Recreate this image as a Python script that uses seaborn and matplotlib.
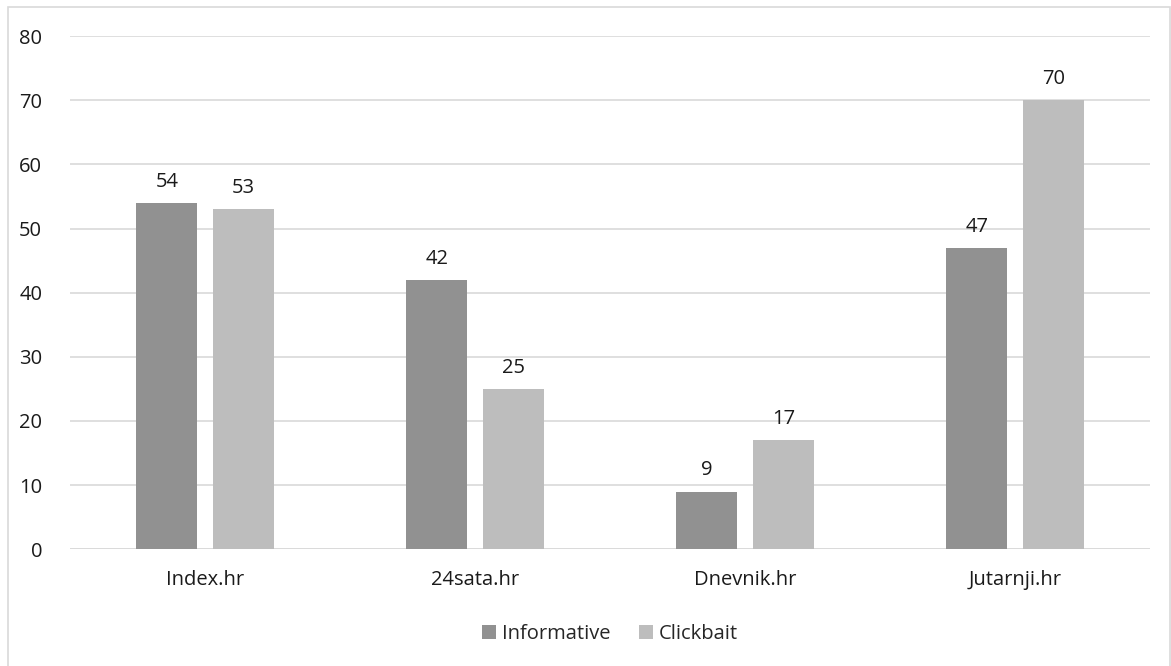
"""
Informative vs clickbait headlines per news portal.
"""
import matplotlib
matplotlib.use("Agg")
import matplotlib.pyplot as plt
from matplotlib.patches import Rectangle
import seaborn as sns
import pandas as pd

portals = ["Index.hr", "24sata.hr", "Dnevnik.hr", "Jutarnji.hr"]
informative = [54, 42, 9, 47]
clickbait = [53, 25, 17, 70]
series_names = ["Informative", "Clickbait"]
colors = ["#919191", "#BDBDBD"]

df = pd.DataFrame({
    "portal": portals * 2,
    "count": informative + clickbait,
    "type": [series_names[0]] * len(portals) + [series_names[1]] * len(portals),
})

sns.set_theme(style="white")
plt.rcParams["font.family"] = ["Open Sans", "DejaVu Sans"]

fs = 14.5
fig = plt.figure(figsize=(11.71, 6.66), dpi=100)
ax = fig.add_axes([0.0598, 0.1752, 0.9223, 0.7707])

sns.barplot(data=df, x="portal", y="count", hue="type", palette=colors,
            width=0.567, gap=0.2, ax=ax, saturation=1, errorbar=None,
            edgecolor="none", linewidth=0)

for cont in ax.containers:
    ax.bar_label(cont, padding=8, fontsize=fs, color="#1a1a1a")

ax.set_ylim(0, 80)
ax.set_xlim(-0.5, 3.5)
ax.set_yticks(range(0, 81, 10))
ax.yaxis.grid(True, color="#D9D9D9", linewidth=1.2)
ax.set_axisbelow(True)
for s in ax.spines.values():
    s.set_visible(False)
ax.axhline(0, color="#D9D9D9", linewidth=1.2, zorder=0)
ax.tick_params(axis="y", length=0, pad=20, labelsize=fs, labelcolor="#1a1a1a")
ax.tick_params(axis="x", length=0, pad=15, labelsize=fs, labelcolor="#1a1a1a")
ax.set_xlabel("")
ax.set_ylabel("")

ax.legend(loc="center", bbox_to_anchor=(0.5, -0.165), ncol=2, frameon=False,
          fontsize=fs, handlelength=0.7, handleheight=0.7, handletextpad=0.3,
          columnspacing=1.4)

# outer chart border like the Excel chart area
fig.patches.append(Rectangle((8 / 1171, -0.01), 1162 / 1171, 1 - 7 / 666 + 0.01,
                             transform=fig.transFigure, fill=False,
                             edgecolor="#D9D9D9", linewidth=1.2))

plt.savefig("out.png", dpi=100)
